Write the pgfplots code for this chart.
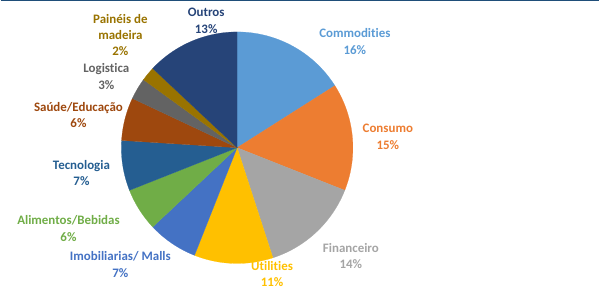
\documentclass[border=0pt]{standalone}
\usepackage{fontspec}
\setmainfont{Carlito}[Ligatures={NoCommon}]
\usepackage{pgfplots}
\pgfplotsset{compat=1.18}
\definecolor{cComm}{HTML}{5B9BD5}
\definecolor{cCons}{HTML}{ED7D31}
\definecolor{cFin}{HTML}{A5A5A5}
\definecolor{cUtil}{HTML}{FFC000}
\definecolor{cImob}{HTML}{4472C4}
\definecolor{cAlim}{HTML}{70AD47}
\definecolor{cTec}{HTML}{255E91}
\definecolor{cSaude}{HTML}{9E480E}
\definecolor{cLog}{HTML}{636363}
\definecolor{cPain}{HTML}{997300}
\definecolor{cOut}{HTML}{264478}
\definecolor{topline}{HTML}{1F4E79}
\tikzset{lbl/.style={font=\fontsize{13}{16.5}\selectfont\bfseries, align=center, inner sep=0pt}}
\begin{document}
\begin{tikzpicture}
\begin{axis}[width=600bp, height=289bp, scale only axis,
  xmin=0, xmax=600, ymin=0, ymax=289, hide axis, clip=false]
\draw[white, line width=0pt] (axis cs:0,0) rectangle (axis cs:600,289);
\draw[topline, line width=1.2pt] (axis cs:0,288.4) -- (axis cs:600,288.4);
\gdef\cumang{90}
\foreach \v/\c in {16/cComm,15/cCons,14/cFin,11/cUtil,7/cImob,6/cAlim,7/cTec,6/cSaude,3/cLog,2/cPain,13/cOut}{
  \pgfmathsetmacro\a{\cumang}
  \pgfmathsetmacro\b{\cumang-3.6*\v}
  \xdef\cumang{\b}
  \edef\temp{\noexpand\addplot[fill=\c, draw=\c, line width=0.2pt, domain=\b:\a, samples=60, variable=\noexpand\t] ({237+116*cos(\noexpand\t)},{141+116*sin(\noexpand\t)}) -- (axis cs:237,141) -- cycle;}
  \temp
}
\node[lbl, text=cComm] at (axis cs:355,247.5) {Commodities\\16\%};
\node[lbl, text=cCons] at (axis cs:388,152) {Consumo\\15\%};
\node[lbl, text=cFin] at (axis cs:351,32.5) {Financeiro\\14\%};
\node[lbl, text=cUtil] at (axis cs:272,14.5) {Utilities\\11\%};
\node[lbl, text=cImob] at (axis cs:120,24) {Imobiliarias/ Malls\\7\%};
\node[lbl, text=cAlim] at (axis cs:68,60) {Alimentos/Bebidas\\6\%};
\node[lbl, text=cTec] at (axis cs:81,115.5) {Tecnologia\\7\%};
\node[lbl, text=cSaude] at (axis cs:78,174) {Saúde/Educação\\6\%};
\node[lbl, text=cLog] at (axis cs:106,212.5) {Logistica\\3\%};
\node[lbl, text=cPain] at (axis cs:120,254) {Painéis de\\madeira\\2\%};
\node[lbl, text=cOut] at (axis cs:206,268) {Outros\\13\%};
\end{axis}
\end{tikzpicture}
\end{document}
